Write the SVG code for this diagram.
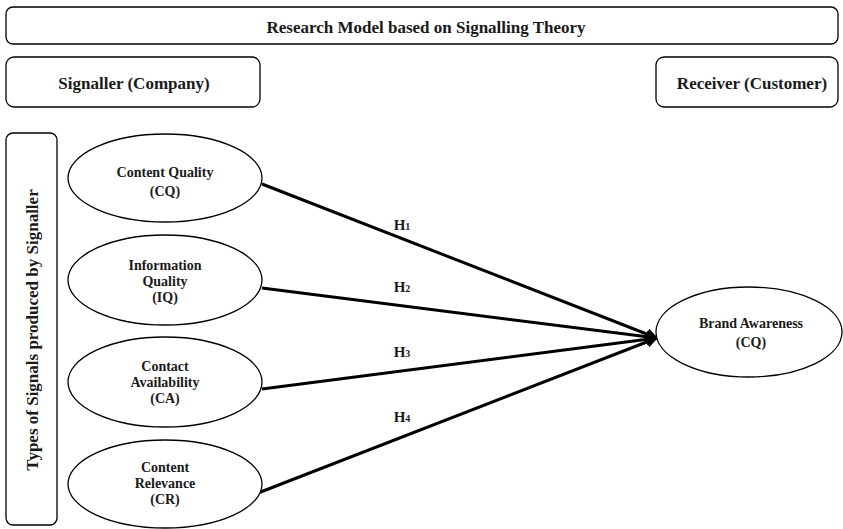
<svg xmlns="http://www.w3.org/2000/svg" width="843" height="529" viewBox="0 0 843 529">
<style>
.box{fill:#fff;stroke:#000;stroke-width:1.3}
.ell{fill:#fff;stroke:#000;stroke-width:1.3}
.t{font-family:"Liberation Serif","Times New Roman",serif;font-weight:bold;fill:#1a1a1a;text-anchor:middle}
.hd{font-size:17px}
.n{font-size:14px}
.h{font-size:15px}
.c{stroke:#000;stroke-width:3;fill:none;marker-end:url(#ah)}
</style>
<defs>
<marker id="ah" viewBox="0 0 10 10" refX="9" refY="5" markerWidth="4" markerHeight="4" markerUnits="strokeWidth" orient="auto">
<path d="M0,0 L10,5 L0,10 z" fill="#000"/>
</marker>
</defs>
<rect width="843" height="529" fill="#fff"/>
<g id="title"><rect class="box" x="6" y="7" width="832" height="37" rx="7"/><text class="t hd" x="426" y="33">Research Model based on Signalling Theory</text></g>
<g id="signaller"><rect class="box" x="6" y="57" width="254" height="50" rx="8"/><text class="t hd" x="134" y="89">Signaller (Company)</text></g>
<g id="receiver"><rect class="box" x="656" y="57" width="182" height="50" rx="8"/><text class="t hd" x="752" y="89">Receiver (Customer)</text></g>
<g id="types"><rect class="box" x="6" y="133" width="51" height="392" rx="7"/><text class="t hd" transform="translate(38,330) rotate(-90)">Types of Signals produced by Signaller</text></g>
<g id="connectors">
<line class="c" x1="262" y1="184" x2="657" y2="338"/>
<line class="c" x1="262" y1="288" x2="657" y2="338"/>
<line class="c" x1="262" y1="389" x2="657" y2="338"/>
<line class="c" x1="258" y1="493" x2="657" y2="338"/>
<text class="t h" x="402" y="230">H<tspan font-size="10px">1</tspan></text>
<text class="t h" x="402" y="292">H<tspan font-size="10px">2</tspan></text>
<text class="t h" x="402" y="357">H<tspan font-size="10px">3</tspan></text>
<text class="t h" x="402" y="422">H<tspan font-size="10px">4</tspan></text>
</g>
<g id="cq"><ellipse class="ell" cx="165" cy="178" rx="97" ry="44"/><text class="t n" x="165" y="177">Content Quality</text><text class="t n" x="165" y="196">(CQ)</text></g>
<g id="iq"><ellipse class="ell" cx="165" cy="280" rx="97" ry="45"/><text class="t n" x="165" y="270">Information</text><text class="t n" x="165" y="286">Quality</text><text class="t n" x="165" y="302">(IQ)</text></g>
<g id="ca"><ellipse class="ell" cx="165" cy="382" rx="97" ry="45"/><text class="t n" x="165" y="371">Contact</text><text class="t n" x="165" y="387">Availability</text><text class="t n" x="165" y="403">(CA)</text></g>
<g id="cr"><ellipse class="ell" cx="165" cy="484" rx="97" ry="44"/><text class="t n" x="165" y="472">Content</text><text class="t n" x="165" y="488">Relevance</text><text class="t n" x="165" y="504">(CR)</text></g>
<g id="ba"><ellipse class="ell" cx="749" cy="332" rx="93" ry="45"/><text class="t n" x="751" y="328">Brand Awareness</text><text class="t n" x="751" y="347">(CQ)</text></g>
</svg>
